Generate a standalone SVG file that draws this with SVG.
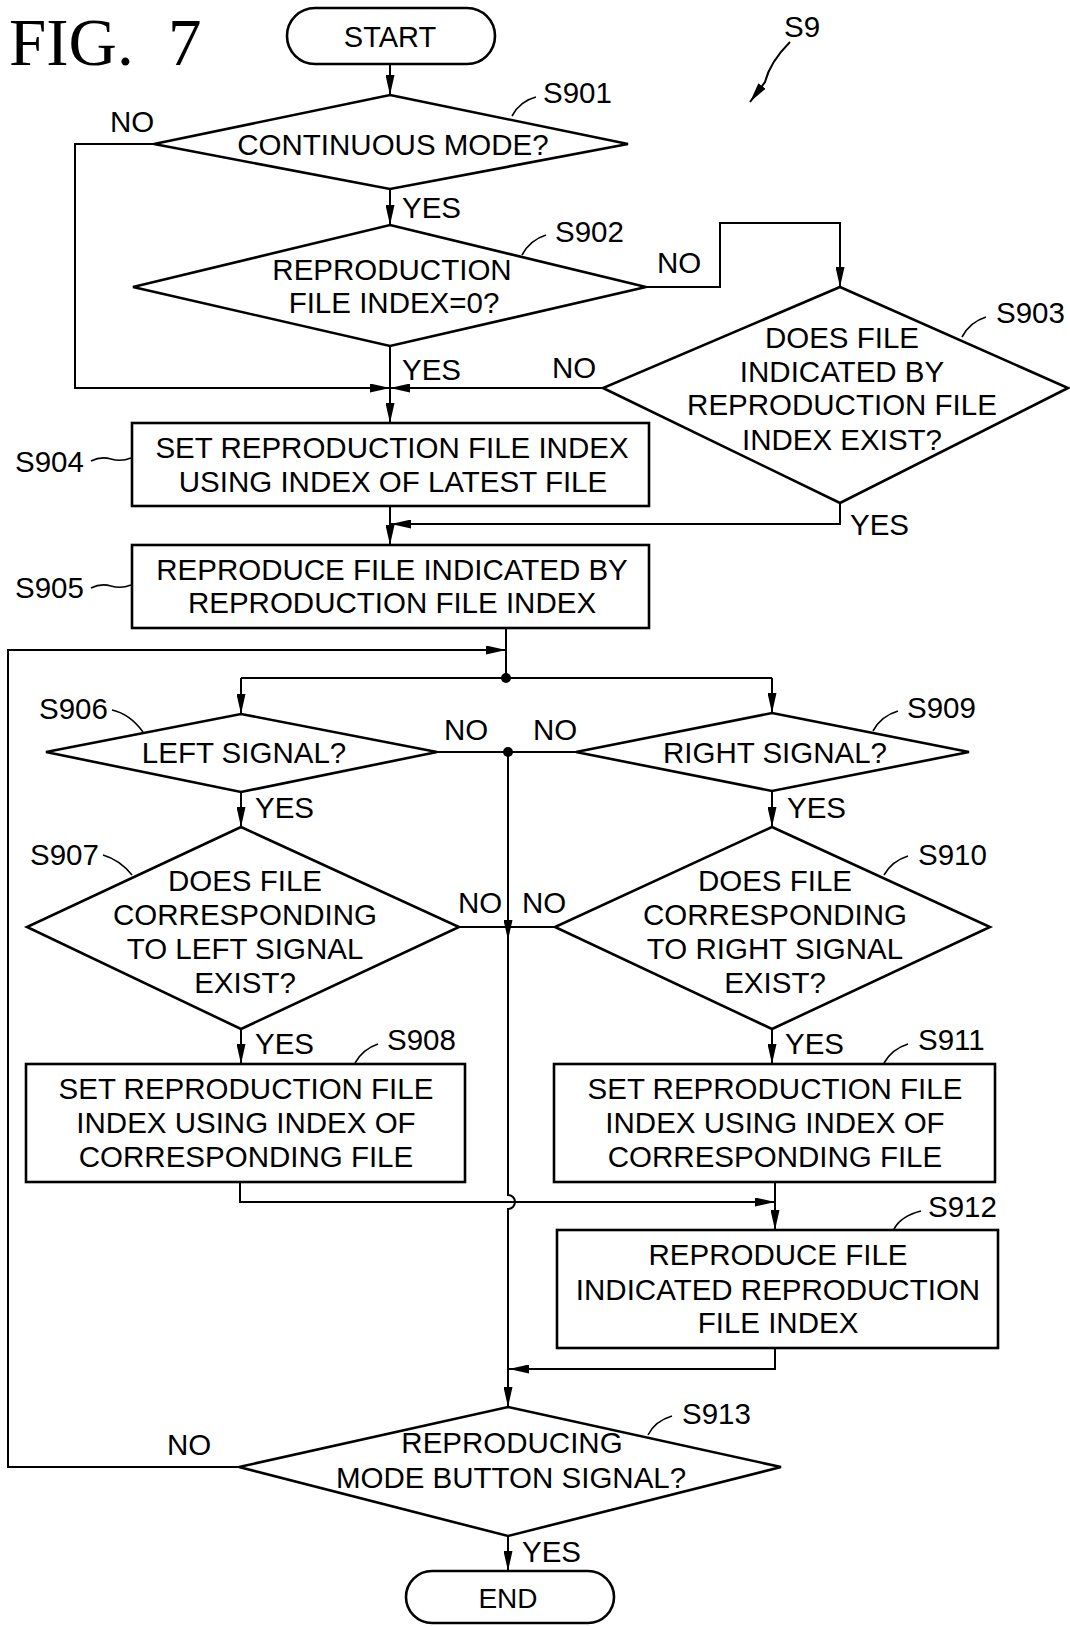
<svg xmlns="http://www.w3.org/2000/svg" width="1070" height="1626" viewBox="0 0 1070 1626">
<style>
.t{font-family:"Liberation Sans",Arial,sans-serif;font-size:29.5px;fill:#000}
.c{text-anchor:middle}
.fig{font-family:"Liberation Serif","Times New Roman",serif;font-size:67px;fill:#000}
.sh{fill:#fff;stroke:#000;stroke-width:2.6;stroke-linejoin:miter}
.ln{fill:none;stroke:#000;stroke-width:2}
.ld{fill:none;stroke:#000;stroke-width:1.6}
</style>
<defs>
<marker id="ah" viewBox="0 0 20 9" refX="20" refY="4.5" markerWidth="20" markerHeight="9" markerUnits="userSpaceOnUse" orient="auto">
<path d="M0,0 L20,4.5 L0,9 z" fill="#000"/>
</marker>
</defs>
<rect width="1070" height="1626" fill="#fff"/>
<text class="fig" x="9" y="65">FIG. <tspan x="168">7</tspan></text>

<g id="connectors">
<line class="ln" x1="390" y1="64" x2="390" y2="95" marker-end="url(#ah)"/>
<line class="ln" x1="390" y1="189" x2="390" y2="225" marker-end="url(#ah)"/>
<path class="ln" d="M154,144 H75 V388 H390" marker-end="url(#ah)"/>
<line class="ln" x1="390" y1="346" x2="390" y2="423" marker-end="url(#ah)"/>
<path class="ln" d="M646,287 H720 V223 H840 V287" marker-end="url(#ah)"/>
<line class="ln" x1="603" y1="388" x2="390" y2="388" marker-end="url(#ah)"/>
<path class="ln" d="M840,503 V524 H391" marker-end="url(#ah)"/>
<line class="ln" x1="390" y1="506" x2="390" y2="545" marker-end="url(#ah)"/>
<line class="ln" x1="506" y1="628" x2="506" y2="678"/>
<path class="ln" d="M239,1467 H8 V650 H506" marker-end="url(#ah)"/>
<line class="ln" x1="241" y1="678" x2="772" y2="678"/>
<line class="ln" x1="241" y1="678" x2="241" y2="714" marker-end="url(#ah)"/>
<line class="ln" x1="772" y1="678" x2="772" y2="713" marker-end="url(#ah)"/>
<circle cx="506" cy="678" r="5" fill="#000"/>
<line class="ln" x1="437" y1="752" x2="576" y2="752"/>
<circle cx="508" cy="752" r="5" fill="#000"/>
<line class="ln" x1="459" y1="927" x2="555" y2="927"/>
<line class="ln" x1="508" y1="752" x2="508" y2="940" marker-end="url(#ah)"/>
<path class="ln" d="M508,940 V1195 A7,7 0 0 1 508,1209 V1407" marker-end="url(#ah)"/>
<line class="ln" x1="241" y1="792" x2="241" y2="827" marker-end="url(#ah)"/>
<line class="ln" x1="241" y1="1029" x2="241" y2="1064" marker-end="url(#ah)"/>
<line class="ln" x1="772" y1="791" x2="772" y2="827" marker-end="url(#ah)"/>
<line class="ln" x1="772" y1="1029" x2="772" y2="1064" marker-end="url(#ah)"/>
<path class="ln" d="M240,1182 V1202 H775" marker-end="url(#ah)"/>
<line class="ln" x1="775" y1="1182" x2="775" y2="1230" marker-end="url(#ah)"/>
<path class="ln" d="M775,1348 V1369 H509" marker-end="url(#ah)"/>
<line class="ln" x1="508" y1="1536" x2="508" y2="1571" marker-end="url(#ah)"/>
<path class="ln" d="M790,42 C776,56 768,70 765,82 L750,102" marker-end="url(#ah)"/>
</g>

<g id="labels">
<text class="t" x="784" y="37">S9</text>
<text class="t" x="110" y="132">NO</text>
<text class="t" x="402" y="218">YES</text>
<text class="t" x="657" y="273">NO</text>
<text class="t" x="402" y="380">YES</text>
<text class="t" x="552" y="378">NO</text>
<text class="t" x="850" y="535">YES</text>
<text class="t" x="444" y="740">NO</text>
<text class="t" x="533" y="740">NO</text>
<text class="t" x="255" y="818">YES</text>
<text class="t" x="787" y="818">YES</text>
<text class="t" x="458" y="913">NO</text>
<text class="t" x="522" y="913">NO</text>
<text class="t" x="255" y="1054">YES</text>
<text class="t" x="785" y="1054">YES</text>
<text class="t" x="167" y="1455">NO</text>
<text class="t" x="522" y="1562">YES</text>
</g>

<g id="start">
<rect class="sh" x="287" y="8" width="208" height="56" rx="28"/>
<text class="t c" x="390" y="47" style="font-size:29px">START</text>
</g>

<g id="S901">
<polygon class="sh" points="390,95 628,144 390,189 154,144"/>
<text class="t c" x="393" y="155">CONTINUOUS MODE?</text>
<path class="ld" d="M512,116 Q520,101 536,97"/>
<text class="t" x="543" y="103">S901</text>
</g>

<g id="S902">
<polygon class="sh" points="390,225 646,287 390,346 133,287"/>
<text class="t c" x="392" y="280">REPRODUCTION</text>
<text class="t c" x="394" y="313">FILE INDEX=0?</text>
<path class="ld" d="M522,255 Q530,240 546,235"/>
<text class="t" x="555" y="242">S902</text>
</g>

<g id="S903">
<polygon class="sh" points="840,287 1068,388 840,503 603,388"/>
<text class="t c" x="842" y="348">DOES FILE</text>
<text class="t c" x="842" y="382">INDICATED BY</text>
<text class="t c" x="842" y="415">REPRODUCTION FILE</text>
<text class="t c" x="842" y="450">INDEX EXIST?</text>
<path class="ld" d="M962,337 Q970,322 986,317"/>
<text class="t" x="996" y="323">S903</text>
</g>

<g id="S904">
<rect class="sh" x="132" y="423" width="517" height="83"/>
<text class="t c" x="392" y="458">SET REPRODUCTION FILE INDEX</text>
<text class="t c" x="393" y="492">USING INDEX OF LATEST FILE</text>
<path class="ld" d="M91,461 Q101,456 111,459 T131,458"/>
<text class="t" x="15" y="472">S904</text>
</g>

<g id="S905">
<rect class="sh" x="132" y="545" width="517" height="83"/>
<text class="t c" x="392" y="580">REPRODUCE FILE INDICATED BY</text>
<text class="t c" x="392" y="613">REPRODUCTION FILE INDEX</text>
<path class="ld" d="M91,588 Q101,583 111,586 T131,585"/>
<text class="t" x="15" y="598">S905</text>
</g>

<g id="S906">
<polygon class="sh" points="241,714 437,752 241,792 46,752"/>
<text class="t c" x="244" y="763">LEFT SIGNAL?</text>
<path class="ld" d="M112,710 Q130,714 143,732"/>
<text class="t" x="39" y="719">S906</text>
</g>

<g id="S907">
<polygon class="sh" points="241,827 459,927 241,1029 27,927"/>
<text class="t c" x="245" y="891">DOES FILE</text>
<text class="t c" x="245" y="925">CORRESPONDING</text>
<text class="t c" x="245" y="959">TO LEFT SIGNAL</text>
<text class="t c" x="245" y="993">EXIST?</text>
<path class="ld" d="M103,855 Q120,860 132,875"/>
<text class="t" x="30" y="865">S907</text>
</g>

<g id="S908">
<rect class="sh" x="26" y="1064" width="439" height="118"/>
<text class="t c" x="246" y="1099">SET REPRODUCTION FILE</text>
<text class="t c" x="246" y="1133">INDEX USING INDEX OF</text>
<text class="t c" x="246" y="1167">CORRESPONDING FILE</text>
<path class="ld" d="M355,1063 Q363,1049 378,1044"/>
<text class="t" x="387" y="1050">S908</text>
</g>

<g id="S909">
<polygon class="sh" points="772,713 969,752 772,791 576,752"/>
<text class="t c" x="775" y="763">RIGHT SIGNAL?</text>
<path class="ld" d="M873,731 Q881,716 898,711"/>
<text class="t" x="907" y="718">S909</text>
</g>

<g id="S910">
<polygon class="sh" points="772,827 990,927 772,1029 555,927"/>
<text class="t c" x="775" y="891">DOES FILE</text>
<text class="t c" x="775" y="925">CORRESPONDING</text>
<text class="t c" x="775" y="959">TO RIGHT SIGNAL</text>
<text class="t c" x="775" y="993">EXIST?</text>
<path class="ld" d="M884,875 Q892,861 908,856"/>
<text class="t" x="918" y="865">S910</text>
</g>

<g id="S911">
<rect class="sh" x="554" y="1064" width="441" height="118"/>
<text class="t c" x="775" y="1099">SET REPRODUCTION FILE</text>
<text class="t c" x="775" y="1133">INDEX USING INDEX OF</text>
<text class="t c" x="775" y="1167">CORRESPONDING FILE</text>
<path class="ld" d="M884,1063 Q892,1049 908,1044"/>
<text class="t" x="918" y="1050">S911</text>
</g>

<g id="S912">
<rect class="sh" x="557" y="1230" width="441" height="118"/>
<text class="t c" x="778" y="1265">REPRODUCE FILE</text>
<text class="t c" x="778" y="1300">INDICATED REPRODUCTION</text>
<text class="t c" x="778" y="1333">FILE INDEX</text>
<path class="ld" d="M894,1229 Q901,1216 921,1211"/>
<text class="t" x="928" y="1217">S912</text>
</g>

<g id="S913">
<polygon class="sh" points="508,1407 781,1467 508,1536 239,1467"/>
<text class="t c" x="512" y="1453">REPRODUCING</text>
<text class="t c" x="511" y="1488">MODE BUTTON SIGNAL?</text>
<path class="ld" d="M648,1435 Q655,1421 672,1416"/>
<text class="t" x="682" y="1424">S913</text>
</g>

<g id="end">
<rect class="sh" x="406" y="1571" width="208" height="52" rx="26"/>
<text class="t c" x="508" y="1608" style="font-size:28px">END</text>
</g>
</svg>
